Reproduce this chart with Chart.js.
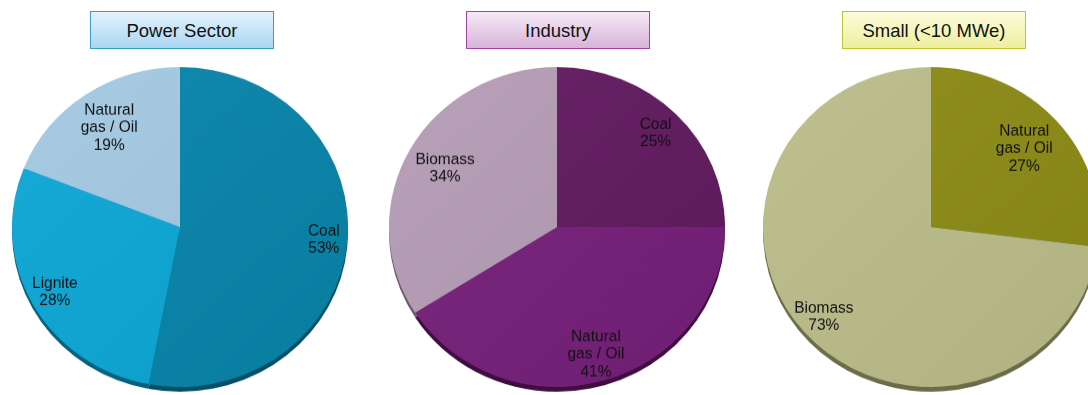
<!DOCTYPE html>
<html>
<head>
<meta charset="utf-8">
<script src="https://cdn.jsdelivr.net/npm/chart.js@4.4.1/dist/chart.umd.min.js"></script>
<style>
  html, body { margin: 0; padding: 0; background: #ffffff; }
  body { width: 1088px; height: 395px; position: relative; overflow: hidden;
         font-family: "Liberation Sans", Arial, sans-serif; }
  .panel { position: absolute; top: 0; height: 395px; overflow: hidden; }
  .wrap { position: absolute; }
  .title { position: absolute; top: 11px; height: 36px; width: 182px; box-sizing: content-box;
           font-size: 18.5px; color: #111; text-align: center; line-height: 37px; z-index: 5; }
</style>
</head>
<body>
<div class="panel" id="p0" style="left:0;width:363px;"></div>
<div class="panel" id="p1" style="left:363px;width:364px;"></div>
<div class="panel" id="p2" style="left:727px;width:361px;"></div>

<div class="title" style="left:90px;border:1.5px solid #3c9cc4;background:linear-gradient(#e4f2fc,#a9d6f2);">Power Sector</div>
<div class="title" style="left:466px;border:1.5px solid #a343a6;background:linear-gradient(#f6eaf6,#d8b3da);">Industry</div>
<div class="title" style="left:842px;border:1.5px solid #c2c235;background:linear-gradient(#fcfcdc,#eeee9e);">Small (&lt;10 MWe)</div>

<script>
// ---- data ----
const powerCategories = ['Coal', 'Lignite', ['Natural', 'gas / Oil']];
const powerValues = [53, 28, 19];
const industryCategories = ['Coal', ['Natural', 'gas / Oil'], 'Biomass'];
const industryValues = [25, 41, 34];
const smallCategories = [['Natural', 'gas / Oil'], 'Biomass'];
const smallValues = [27, 73];

// ---- styles ----
const powerColors = ['#0785aa', '#0ca7d6', '#a2c9e1'];
const powerRims = ['#034f66', '#06627f', '#5f8aa3'];
const industryColors = ['#611a5f', '#761f7a', '#b49cb5'];
const industryRims = ['#340b33', '#3e0e40', '#6e5870'];
const smallColors = ['#8b8a15', '#bbbd89'];
const smallRims = ['#4d4c08', '#6c6c48'];

const R = 168;          // horizontal radius (px)
const SY = 0.952;       // vertical squash of the pie
const RIM = 5;          // depth of the bottom rim

const pies = [
  { panel: 'p0', panelLeft: 0,   cx: 180, cy: 227, labels: powerCategories, values: powerValues,
    colors: powerColors, rims: powerRims, labelFrac: [0.86, 0.85, 0.75] },
  { panel: 'p1', panelLeft: 363, cx: 557, cy: 227, labels: industryCategories, values: industryValues,
    colors: industryColors, rims: industryRims, labelFrac: [0.83, 0.83, 0.76] },
  { panel: 'p2', panelLeft: 727, cx: 931, cy: 227, labels: smallCategories, values: smallValues,
    colors: smallColors, rims: smallRims, labelFrac: [0.74, 0.85] }
];

function shade(hex, amt) {
  const n = parseInt(hex.slice(1), 16);
  let r = (n >> 16) & 255, g = (n >> 8) & 255, b = n & 255;
  const f = c => Math.max(0, Math.min(255, Math.round(amt >= 0 ? c + (255 - c) * amt : c * (1 + amt))));
  return 'rgb(' + f(r) + ',' + f(g) + ',' + f(b) + ')';
}

const rimPlugin = {
  id: 'rim',
  beforeDatasetsDraw(chart, args, opts) {
    const ctx = chart.ctx;
    const meta = chart.getDatasetMeta(0);
    meta.data.forEach((arc, i) => {
      const p = arc.getProps(['x', 'y', 'startAngle', 'endAngle', 'outerRadius'], true);
      ctx.save();
      ctx.beginPath();
      ctx.moveTo(p.x, p.y + RIM);
      ctx.arc(p.x, p.y + RIM, p.outerRadius, p.startAngle, p.endAngle);
      ctx.closePath();
      ctx.fillStyle = opts.rims[i];
      ctx.fill();
      ctx.restore();
    });
  }
};

const labelPlugin = {
  id: 'sliceLabels',
  afterDatasetsDraw(chart, args, opts) {
    const ctx = chart.ctx;
    const meta = chart.getDatasetMeta(0);
    const ds = chart.data.datasets[0].data;
    const total = ds.reduce((a, b) => a + b, 0);
    meta.data.forEach((arc, i) => {
      const p = arc.getProps(['x', 'y', 'startAngle', 'endAngle', 'outerRadius'], true);
      const mid = (p.startAngle + p.endAngle) / 2;
      const r = p.outerRadius * opts.frac[i];
      const x = p.x + Math.cos(mid) * r;
      const y = p.y + Math.sin(mid) * r;
      const lab = chart.data.labels[i];
      const lines = (Array.isArray(lab) ? lab.slice() : [lab]);
      lines.push(Math.round(ds[i] / total * 100) + '%');
      ctx.save();
      ctx.translate(x, y);
      ctx.scale(1, 1 / SY);
      ctx.fillStyle = '#111';
      ctx.font = '15.5px "Liberation Sans", Arial, sans-serif';
      ctx.textAlign = 'center';
      ctx.textBaseline = 'middle';
      const lh = 17.5;
      const y0 = -(lines.length - 1) * lh / 2;
      lines.forEach((t, k) => ctx.fillText(t, 0, y0 + k * lh));
      ctx.restore();
    });
  }
};

pies.forEach(pie => {
  const panel = document.getElementById(pie.panel);
  const wrap = document.createElement('div');
  wrap.className = 'wrap';
  const W = 2 * R + 4, H = 2 * R + 4 + RIM + 4;
  wrap.style.left = (pie.cx - pie.panelLeft - R - 2) + 'px';
  wrap.style.top = (pie.cy - R - 2) + 'px';
  wrap.style.width = W + 'px';
  wrap.style.height = H + 'px';
  wrap.style.transformOrigin = (R + 2) + 'px ' + (R + 2) + 'px';
  wrap.style.transform = 'scaleY(' + SY + ')';
  const cv = document.createElement('canvas');
  cv.width = W; cv.height = H;
  wrap.appendChild(cv);
  panel.appendChild(wrap);

  new Chart(cv, {
    type: 'pie',
    data: {
      labels: pie.labels,
      datasets: [{
        data: pie.values,
        backgroundColor: (c) => {
          const area = c.chart.chartArea;
          const base = pie.colors[c.dataIndex];
          if (!area) return base;
          const g = c.chart.ctx.createLinearGradient(area.left, area.top, area.right, area.bottom);
          g.addColorStop(0, shade(base, 0.05));
          g.addColorStop(1, shade(base, -0.06));
          return g;
        },
        borderWidth: 0,
        hoverOffset: 0,
        offset: 0
      }]
    },
    options: {
      responsive: false,
      animation: false,
      events: [],
      rotation: 0,
      layout: { padding: { left: 2, right: 2, top: 2, bottom: RIM + 6 } },
      plugins: {
        legend: { display: false },
        tooltip: { enabled: false },
        title: { display: false },
        rim: { rims: pie.rims },
        sliceLabels: { frac: pie.labelFrac }
      }
    },
    plugins: [rimPlugin, labelPlugin]
  });
});
</script>
</body>
</html>
